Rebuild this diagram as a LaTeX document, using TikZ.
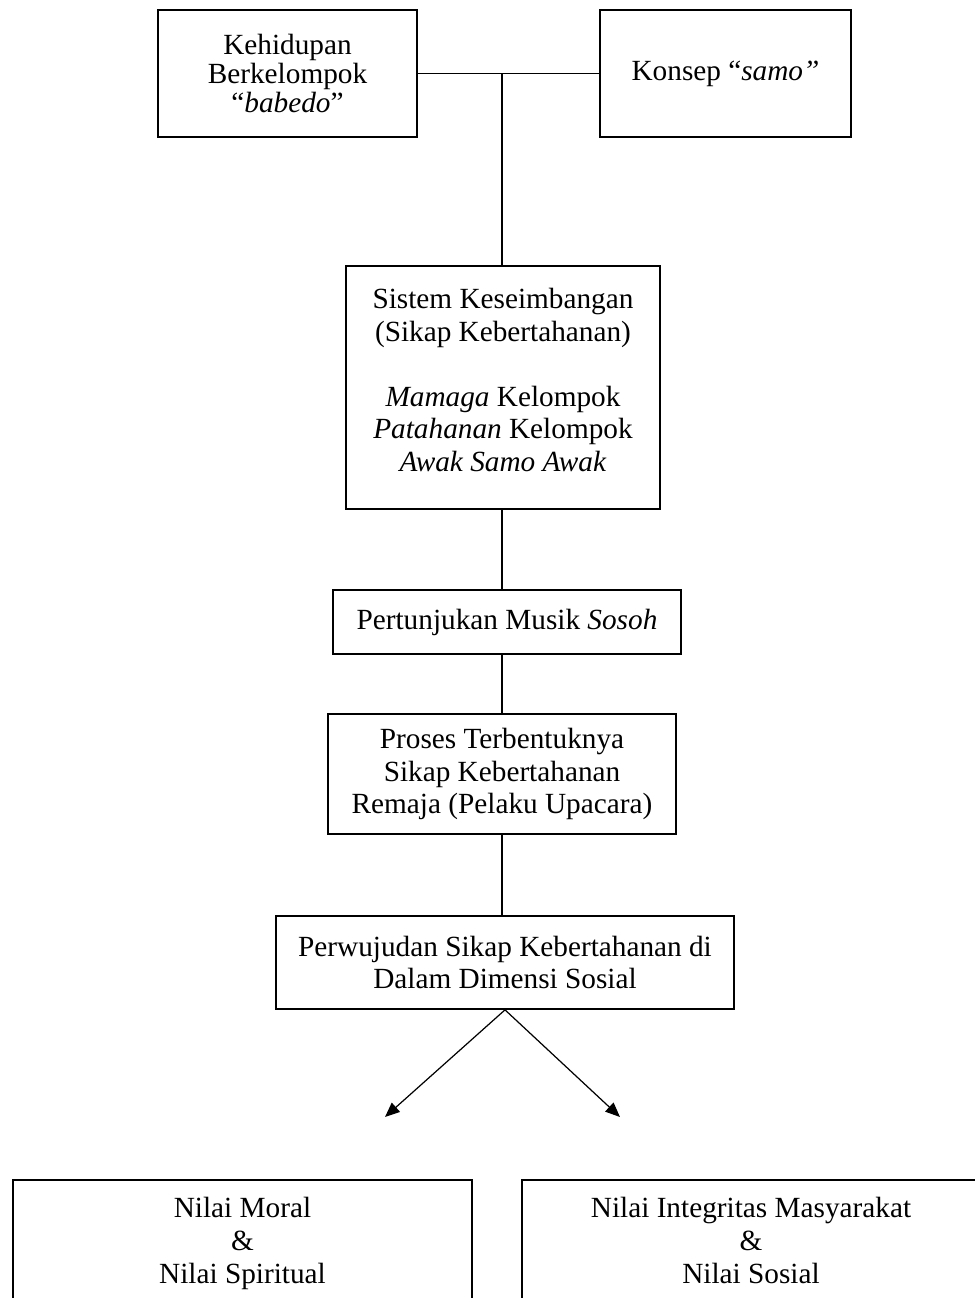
\documentclass[tikz,border=0pt]{standalone}
\usepackage{fontspec}
\setmainfont{Liberation Serif}
\usetikzlibrary{arrows.meta}
\newdimen\upx \upx=0.41pt
\begin{document}
\begin{tikzpicture}[x=0.41pt,y=-0.41pt,
  box/.style={draw, line width=0.7pt, inner sep=0pt, align=center,
    font=\fontsize{12}{13.5}\selectfont},
  txt/.style={inner sep=0pt, align=center, font=\fontsize{12}{13.3}\selectfont},
  link/.style={line width=0.5pt},
  arr/.style={line width=0.5pt, -{Triangle[length=6pt,width=5pt]}}]
\useasboundingbox (0,0) rectangle (975,1298);
\clip (0,0) rectangle (975,1298);
\node[box, font=\fontsize{12}{12}\selectfont, minimum width=259\upx, minimum height=127\upx] (b1) at (287.5,73.5)
  {Kehidupan\\Berkelompok\\“\textit{babedo}”};
\node[box, minimum width=251\upx, minimum height=127\upx] (b2) at (725.5,73.5)
  {Konsep “\textit{samo”}};
\node[box, minimum width=314\upx, minimum height=243\upx] (b3) at (503,387.5) {};
\node[txt] (t3) at (503,380)
  {Sistem Keseimbangan\\(Sikap Kebertahanan)\\[13.3pt]\textit{Mamaga} Kelompok\\\textit{Patahanan} Kelompok\\\textit{Awak Samo Awak}};
\node[box, minimum width=348\upx, minimum height=64\upx] (b4) at (507,622)
  {Pertunjukan Musik \textit{Sosoh}};
\node[box, minimum width=348\upx, minimum height=120\upx] (b5) at (502,774)
  {Proses Terbentuknya\\Sikap Kebertahanan\\Remaja (Pelaku Upacara)};
\node[box, minimum width=458\upx, minimum height=93\upx] (b6) at (505,962.5)
  {Perwujudan Sikap Kebertahanan di\\Dalam Dimensi Sosial};
\node[box, minimum width=459\upx, minimum height=130\upx] (b7) at (242.5,1245)
  {Nilai Moral\\\&\\Nilai Spiritual\strut};
\node[box, minimum width=458\upx, minimum height=130\upx] (b8) at (751,1245)
  {Nilai Integritas Masyarakat\\\&\\Nilai Sosial\strut};
\coordinate (j) at (502,73.5);
\coordinate (a1) at (385,1117);
\coordinate (a2) at (620,1117);
\draw[link] (b1.east) -- (b2.west);
\draw[link] (j) -- (j |- b3.north);
\draw[link] (b3.south -| j) -- (j |- b4.north);
\draw[link] (b4.south -| b5.north) -- (b5.north);
\draw[link] (b5.south) -- (b5.south |- b6.north);
\draw[arr] (b6.south) -- (a1);
\draw[arr] (b6.south) -- (a2);
\end{tikzpicture}
\end{document}
